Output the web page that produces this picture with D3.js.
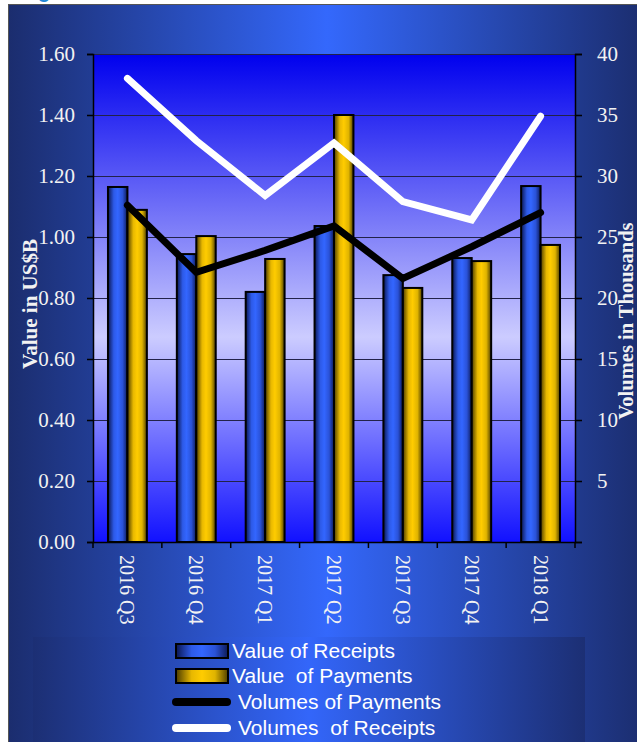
<!DOCTYPE html>
<html>
<head>
<meta charset="utf-8">
<script src="https://cdn.jsdelivr.net/npm/d3@7"></script>
<style>
  html, body { margin: 0; padding: 0; background: #fff; }
  svg { display: block; }
</style>
</head>
<body>
<div id="chart"></div>
<script>
// ---- data ----
const categories = ["2016 Q3", "2016 Q4", "2017 Q1", "2017 Q2", "2017 Q3", "2017 Q4", "2018 Q1"];
const receiptsValue = [1.164, 0.944, 0.82, 1.036, 0.875, 0.931, 1.167];
const paymentsValue = [1.089, 1.003, 0.928, 1.40, 0.833, 0.921, 0.974];
const paymentsVolume = [27.6, 22.1, 23.9, 25.9, 21.6, 24.2, 27.0];
const receiptsVolume = [38.0, 32.9, 28.4, 32.7, 27.9, 26.4, 34.9];
const leftTicks = [0, 0.2, 0.4, 0.6, 0.8, 1.0, 1.2, 1.4, 1.6];
const rightTicks = [5, 10, 15, 20, 25, 30, 35, 40];
const barSeries = ["Value of Receipts", "Value  of Payments"];
const lineSeries = ["Volumes of Payments", "Volumes  of Receipts"];

const W = 637, H = 742;
const plot = {left: 93, right: 575, top: 54, bottom: 542};

const svg = d3.select("#chart").append("svg")
  .attr("width", W).attr("height", H);

const defs = svg.append("defs");

function hGrad(id, stops) {
  const g = defs.append("linearGradient").attr("id", id)
    .attr("x1", "0%").attr("x2", "100%").attr("y1", "0%").attr("y2", "0%");
  stops.forEach(s => g.append("stop").attr("offset", s[0]).attr("stop-color", s[1]));
}
function vGrad(id, stops) {
  const g = defs.append("linearGradient").attr("id", id)
    .attr("x1", "0%").attr("x2", "0%").attr("y1", "0%").attr("y2", "100%");
  stops.forEach(s => g.append("stop").attr("offset", s[0]).attr("stop-color", s[1]));
}

hGrad("frameGrad", [[0, "#1b2d6e"], [0.5, "#3468fc"], [1, "#1b2d6e"]]);
hGrad("legendGrad", [[0, "#1c2f74"], [0.5, "#3366fa"], [1, "#1c2f74"]]);
vGrad("plotGrad", [[0, "#0000ee"], [0.58, "#ccccff"], [1, "#1111ff"]]);
hGrad("blueBar", [[0, "#0b1650"], [0.3, "#2d5ae8"], [0.5, "#3366ff"], [0.75, "#2a52d8"], [1, "#0d1a58"]]);
hGrad("goldBar", [[0, "#4a3a00"], [0.3, "#e8b800"], [0.5, "#ffcc00"], [0.75, "#e0b400"], [1, "#4f3f00"]]);

// cut-off title descender (the reference shows only this sliver)
svg.append("text")
  .attr("x", 38).attr("y", -2)
  .attr("font-family", "Liberation Sans, Arial, sans-serif")
  .attr("font-size", 20).attr("font-weight", "bold")
  .attr("fill", "#1f87d6")
  .text("g");

// outer frame
svg.append("rect")
  .attr("x", 8.5).attr("y", 4.5)
  .attr("width", W).attr("height", H)
  .attr("fill", "url(#frameGrad)")
  .attr("stroke", "#555").attr("stroke-width", 1);

// scales
const x = d3.scaleBand().domain(categories).range([plot.left, plot.right]).paddingInner(0).paddingOuter(0);
const x1 = d3.scaleBand().domain(barSeries).range([0, x.bandwidth()]).paddingInner(0).paddingOuter(0.77);
const y = d3.scaleLinear().domain([0, 1.6]).range([plot.bottom, plot.top]);
const y2 = d3.scaleLinear().domain([0, 40]).range([plot.bottom, plot.top]);

// plot background
svg.append("rect")
  .attr("x", plot.left).attr("y", plot.top)
  .attr("width", plot.right - plot.left).attr("height", plot.bottom - plot.top)
  .attr("fill", "url(#plotGrad)");

// gridlines
svg.append("g")
  .selectAll("line").data(leftTicks.slice(1)).join("line")
  .attr("x1", plot.left).attr("x2", plot.right)
  .attr("y1", d => Math.round(y(d)) + 0.5).attr("y2", d => Math.round(y(d)) + 0.5)
  .attr("stroke", "#22224a").attr("stroke-width", 1.2);

// axes
const tickFont = "Liberation Serif, 'Times New Roman', serif";

const leftAxis = svg.append("g")
  .attr("transform", `translate(${plot.left},0)`)
  .call(d3.axisLeft(y).tickValues(leftTicks).tickFormat(d3.format(".2f")).tickSize(6).tickPadding(12));
const rightAxis = svg.append("g")
  .attr("transform", `translate(${plot.right},0)`)
  .call(d3.axisRight(y2).tickValues([0].concat(rightTicks)).tickFormat(d => d === 0 ? "" : d).tickSize(7).tickPadding(15));
const bottomAxis = svg.append("g")
  .attr("transform", `translate(0,${plot.bottom})`)
  .call(d3.axisBottom(x).tickSize(0).tickFormat(""));

[leftAxis, rightAxis].forEach(a => {
  a.select(".domain").attr("stroke", "#000").attr("stroke-width", 1.5);
  a.selectAll(".tick line").attr("stroke", "#000").attr("stroke-width", 1.5);
  a.selectAll("text").attr("font-family", tickFont).attr("font-size", 21).attr("fill", "#f2f2f2");
});
bottomAxis.select(".domain").attr("stroke", "#000").attr("stroke-width", 1.5);

// bottom category ticks at band edges
svg.append("g")
  .selectAll("line").data(categories.concat([null])).join("line")
  .attr("x1", d => d ? x(d) : plot.right).attr("x2", d => d ? x(d) : plot.right)
  .attr("y1", plot.bottom).attr("y2", plot.bottom + 6)
  .attr("stroke", "#000").attr("stroke-width", 1.5);

// category labels (rotated)
svg.append("g")
  .selectAll("text").data(categories).join("text")
  .attr("transform", d => `translate(${x(d) + x.bandwidth() / 2},555) rotate(90)`)
  .attr("dy", "0.35em")
  .attr("font-family", tickFont).attr("font-size", 20)
  .attr("fill", "#f2f2f2")
  .text(d => d);

// axis titles
svg.append("text")
  .attr("transform", "translate(37,304) rotate(-90)")
  .attr("text-anchor", "middle")
  .attr("font-family", tickFont).attr("font-size", 21).attr("font-weight", "bold")
  .attr("fill", "#f2f2f2")
  .text("Value in US$B");
svg.append("text")
  .attr("transform", "translate(633,321) rotate(-90)")
  .attr("text-anchor", "middle")
  .attr("font-family", tickFont).attr("font-size", 20.5).attr("font-weight", "bold")
  .attr("fill", "#f2f2f2")
  .text("Volumes in Thousands");

// bars
const barData = categories.map((c, i) => ({cat: c, vals: [receiptsValue[i], paymentsValue[i]]}));
const grads = ["url(#blueBar)", "url(#goldBar)"];
svg.append("g")
  .selectAll("g").data(barData).join("g")
  .attr("transform", d => `translate(${x(d.cat)},0)`)
  .selectAll("rect").data(d => d.vals.map((v, k) => ({k, v}))).join("rect")
  .attr("x", d => x1(barSeries[d.k]))
  .attr("y", d => y(d.v))
  .attr("width", x1.bandwidth())
  .attr("height", d => y(0) - y(d.v))
  .attr("fill", d => grads[d.k])
  .attr("stroke", "#000").attr("stroke-width", 2);

// lines
const line = d3.line()
  .x((d, i) => x(categories[i]) + x.bandwidth() / 2)
  .y(d => y2(d));

svg.append("path").datum(paymentsVolume)
  .attr("d", line).attr("fill", "none")
  .attr("stroke", "#000").attr("stroke-width", 7)
  .attr("stroke-linecap", "round").attr("stroke-linejoin", "miter");
svg.append("path").datum(receiptsVolume)
  .attr("d", line).attr("fill", "none")
  .attr("stroke", "#fff").attr("stroke-width", 7)
  .attr("stroke-linecap", "round").attr("stroke-linejoin", "miter");

// legend
svg.append("rect")
  .attr("x", 33).attr("y", 637).attr("width", 552).attr("height", 110)
  .attr("fill", "url(#legendGrad)");

const legend = svg.append("g");
const legendFont = "Liberation Sans, Arial, sans-serif";
const rowY = [651, 676, 702, 728];

legend.selectAll("rect.sw").data(barSeries).join("rect")
  .attr("class", "sw")
  .attr("x", 176).attr("y", (d, i) => rowY[i] - 7)
  .attr("width", 52).attr("height", 14)
  .attr("fill", (d, i) => grads[i])
  .attr("stroke", "#000").attr("stroke-width", 2);

legend.selectAll("line").data(lineSeries).join("line")
  .attr("x1", 176).attr("x2", 227)
  .attr("y1", (d, i) => rowY[i + 2]).attr("y2", (d, i) => rowY[i + 2])
  .attr("stroke", (d, i) => i === 0 ? "#000" : "#fff")
  .attr("stroke-width", 8).attr("stroke-linecap", "round");

legend.selectAll("text").data(barSeries.concat(lineSeries)).join("text")
  .attr("x", (d, i) => i < 2 ? 232 : 238)
  .attr("y", (d, i) => rowY[i])
  .attr("dy", "0.35em")
  .attr("font-family", legendFont).attr("font-size", 21)
  .attr("fill", "#fff")
  .style("white-space", "pre")
  .text(d => d);
</script>
</body>
</html>
